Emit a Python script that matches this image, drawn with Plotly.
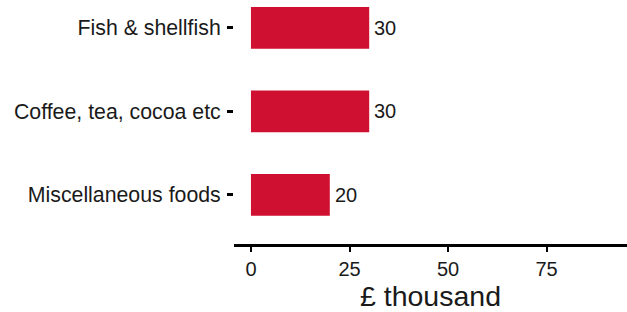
import plotly.graph_objects as go

categories = ["Miscellaneous foods", "Coffee, tea, cocoa etc", "Fish & shellfish"]
values = [20, 30, 30]
x_ticks = [0, 25, 50, 75]
x_title = "£ thousand"

FONT = "Liberation Sans, Arial, sans-serif"

fig = go.Figure(
    go.Bar(
        x=values,
        y=categories,
        orientation="h",
        marker=dict(color="#CF1030", line=dict(width=0)),
        hoverinfo="x+y",
    )
)

for c, v in zip(categories, values):
    fig.add_annotation(
        x=v, y=c, text=str(v), showarrow=False,
        xanchor="left", yanchor="middle", xshift=3,
        font=dict(family=FONT, size=20, color="#1a1a1a"),
    )

fig.update_layout(
    width=627,
    height=312,
    autosize=False,
    margin=dict(l=234, r=0, t=0, b=68, pad=0),
    paper_bgcolor="white",
    plot_bgcolor="white",
    bargap=0.5,
    showlegend=False,
    font=dict(family=FONT, color="#1a1a1a"),
)

fig.update_xaxes(
    range=[-4.3, 95.4],
    tickvals=x_ticks,
    ticktext=[str(t) for t in x_ticks],
    showgrid=False,
    zeroline=False,
    showline=True,
    linecolor="black",
    linewidth=2.5,
    ticks="outside",
    ticklen=5,
    tickwidth=2,
    tickcolor="black",
    tickfont=dict(family=FONT, size=20, color="#1a1a1a"),
    title=dict(text=x_title, font=dict(family=FONT, size=28.5, color="#1a1a1a"), standoff=4),
)

fig.update_yaxes(
    categoryorder="array",
    categoryarray=categories,
    range=[-0.587, 2.335],
    showgrid=False,
    zeroline=False,
    showline=False,
    ticks="outside",
    ticklen=6,
    tickwidth=2.5,
    tickcolor="black",
    ticklabelstandoff=2,
    tickfont=dict(family=FONT, size=21.3, color="#1a1a1a"),
)

fig.write_html(
    "out.html",
    config={"displayModeBar": False},
    post_script="document.body.style.margin='0';document.body.style.padding='0';",
)
